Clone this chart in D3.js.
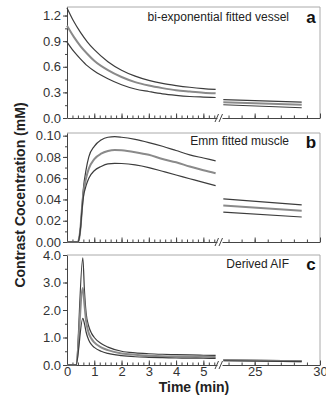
<!DOCTYPE html>
<html lang="en">
<head>
    <meta charset="utf-8">
    <title>Contrast concentration</title>
    <script src="https://d3js.org/d3.v7.min.js"></script>
    <style type="text/css">
        body{
            margin: 0;
            background: #fff;
        }
        svg{
            display: block;
            font-family: "Liberation Sans", Arial, sans-serif;
        }
        .tick text{
            fill: #333;
            font-size: 13px;
        }
        .domain{
            stroke: #444;
        }
        .tick line{
            stroke: #444;
        }
    </style>
</head>
<body>
    <svg id="chart" width="326" height="407"></svg>

    <script type="text/javascript">

        // panel a - bi-exponential fitted vessel
        const vesselTime = [0, 0.25, 0.5, 0.75, 1, 1.5, 2, 2.5, 3, 3.5, 4, 4.5, 5, 5.45]
        const vesselHigh = [1.29, 1.13, 1.0, 0.89, 0.8, 0.66, 0.56, 0.49, 0.44, 0.405, 0.38, 0.36, 0.345, 0.335]
        const vesselMid  = [1.08, 0.95, 0.84, 0.75, 0.67, 0.56, 0.48, 0.42, 0.38, 0.35, 0.325, 0.31, 0.297, 0.29]
        const vesselLow  = [0.89, 0.78, 0.69, 0.61, 0.55, 0.46, 0.39, 0.34, 0.31, 0.283, 0.265, 0.252, 0.245, 0.24]
        const vesselLateTime = [22.6, 28.6]
        const vesselLateHigh = [0.215, 0.185]
        const vesselLateMid  = [0.185, 0.155]
        const vesselLateLow  = [0.155, 0.12]

        // panel b - Emm fitted muscle
        const muscleTime = [0, 0.4, 0.45, 0.5, 0.55, 0.6, 0.7, 0.8, 1, 1.25, 1.5, 1.75, 2, 2.5, 3, 3.5, 4, 4.5, 5, 5.45]
        const muscleHigh = [0, 0, 0.004, 0.015, 0.033, 0.05, 0.068, 0.08, 0.09, 0.096, 0.0985, 0.099, 0.0985, 0.0965, 0.0935, 0.09, 0.086, 0.082, 0.079, 0.0763]
        const muscleMid  = [0, 0, 0.004, 0.015, 0.032, 0.046, 0.06, 0.069, 0.078, 0.083, 0.0855, 0.0865, 0.0862, 0.0845, 0.082, 0.078, 0.075, 0.071, 0.0675, 0.0647]
        const muscleLow  = [0, 0, 0.004, 0.014, 0.03, 0.042, 0.053, 0.06, 0.067, 0.071, 0.0735, 0.074, 0.0738, 0.0725, 0.07, 0.0665, 0.063, 0.0595, 0.056, 0.053]
        const muscleLateTime = [22.6, 28.6]
        const muscleLateHigh = [0.0406, 0.035]
        const muscleLateMid  = [0.0343, 0.0294]
        const muscleLateLow  = [0.0281, 0.0235]

        // panel c - derived AIF
        const aifTime = [0, 0.33, 0.58, 0.64, 0.7, 0.8, 0.9, 1, 1.25, 1.5, 2, 2.5, 3, 3.5, 4, 4.5, 5, 5.45]
        const aifHigh = [0, 0, 3.9, 2.7, 1.9, 1.4, 1.15, 1.0, 0.78, 0.65, 0.5, 0.44, 0.41, 0.39, 0.375, 0.365, 0.355, 0.35]
        const aifMid  = [0, 0, 2.8, 2.2, 1.6, 1.15, 0.95, 0.82, 0.64, 0.54, 0.42, 0.37, 0.34, 0.32, 0.31, 0.305, 0.3, 0.295]
        const aifLow  = [0, 0, 1.7, 1.5, 1.2, 0.9, 0.74, 0.64, 0.5, 0.42, 0.34, 0.3, 0.28, 0.265, 0.255, 0.25, 0.245, 0.24]
        const aifLateTime = [22.6, 28.6]
        const aifLateHigh = [0.19, 0.15]
        const aifLateMid  = [0.17, 0.14]
        const aifLateLow  = [0.155, 0.12]

        const earlyTicks = [0, 1, 2, 3, 4, 5]
        const lateTicks = [25, 30]

        const svg = d3.select("#chart");

        const xEarly = d3.scaleLinear().domain([0, 5.5]).range([67, 217]);
        const xLate = d3.scaleLinear().domain([22.5, 30]).range([222, 320]);

        const panels = [
            {
                top: 7, bottom: 118, max: 1.3, majors: [0, 0.3, 0.6, 0.9, 1.2], minorStep: 0.15, fmt: d3.format(".1f"),
                title: "bi-exponential fitted vessel", letter: "a", titleY: 21, letterY: 23,
                time: vesselTime, series: [vesselHigh, vesselMid, vesselLow],
                lateTime: vesselLateTime, late: [vesselLateHigh, vesselLateMid, vesselLateLow]
            },
            {
                top: 133, bottom: 242, max: 0.1025, majors: [0, 0.02, 0.04, 0.06, 0.08, 0.1], minorStep: 0.01, fmt: d3.format(".2f"),
                title: "Emm fitted muscle", letter: "b", titleY: 145, letterY: 148,
                time: muscleTime, series: [muscleHigh, muscleMid, muscleLow],
                lateTime: muscleLateTime, late: [muscleLateHigh, muscleLateMid, muscleLateLow]
            },
            {
                top: 255, bottom: 365, max: 4, majors: [0, 1, 2, 3, 4], minorStep: 0.5, fmt: d3.format(".1f"),
                title: "Derived AIF", letter: "c", titleY: 268, letterY: 270,
                time: aifTime, series: [aifHigh, aifMid, aifLow],
                lateTime: aifLateTime, late: [aifLateHigh, aifLateMid, aifLateLow]
            }
        ];

        const lineStyles = [
            {stroke: "#3c3c3c", width: 1.2},
            {stroke: "#8a8a8a", width: 2},
            {stroke: "#3c3c3c", width: 1.2}
        ];

        panels.forEach((p, pi) => {
            const y = d3.scaleLinear().domain([0, p.max]).range([p.bottom, p.top]);
            const g = svg.append("g");

            // frame (top and right)
            g.append("path")
                .attr("d", `M67,${p.top}H320V${p.bottom}`)
                .attr("fill", "none")
                .attr("stroke", "#aaa")
                .attr("stroke-width", 1);

            // y axis, minor then major
            const minors = d3.range(0, p.max + 1e-9, p.minorStep);
            g.append("g")
                .attr("transform", "translate(67,0)")
                .call(d3.axisLeft(y).tickValues(minors).tickSize(2).tickFormat(""))
                .call(a => a.select(".domain").remove());
            g.append("g")
                .attr("transform", "translate(67,0)")
                .call(d3.axisLeft(y).tickValues(p.majors).tickSize(4).tickSizeOuter(0).tickPadding(2).tickFormat(p.fmt));

            // x axes with a break, ticks pointing inward
            const last = pi === panels.length - 1;
            g.append("g")
                .attr("transform", `translate(0,${p.bottom})`)
                .call(d3.axisBottom(xEarly).tickValues(d3.range(0, 5.41, 0.2)).tickSize(-2.5).tickSizeOuter(0).tickFormat(""));
            g.append("g")
                .attr("transform", `translate(0,${p.bottom})`)
                .call(d3.axisBottom(xEarly).tickValues(earlyTicks).tickSize(-4.5).tickSizeOuter(0).tickPadding(2).tickFormat(last ? d3.format("d") : ""))
                .call(a => a.select(".domain").remove());
            g.append("g")
                .attr("transform", `translate(0,${p.bottom})`)
                .call(d3.axisBottom(xLate).tickValues(d3.range(23, 30.1, 1)).tickSize(-2.5).tickSizeOuter(0).tickFormat(""));
            g.append("g")
                .attr("transform", `translate(0,${p.bottom})`)
                .call(d3.axisBottom(xLate).tickValues(lateTicks).tickSize(-4.5).tickSizeOuter(0).tickPadding(2).tickFormat(last ? d3.format("d") : ""))
                .call(a => a.select(".domain").remove());

            // break marks
            [215, 219].forEach(bx => {
                g.append("line")
                    .attr("x1", bx).attr("y1", p.bottom + 4)
                    .attr("x2", bx + 3.5).attr("y2", p.bottom - 4)
                    .attr("stroke", "#444")
                    .attr("stroke-width", 1);
            });

            // curves
            const early = d3.line()
                .x(d => xEarly(d[0]))
                .y(d => y(d[1]))
                .curve(d3.curveMonotoneX);
            const late = d3.line()
                .x(d => xLate(d[0]))
                .y(d => y(d[1]));

            p.series.forEach((s, i) => {
                g.append("path")
                    .attr("d", early(p.time.map((t, j) => [t, s[j]])))
                    .attr("fill", "none")
                    .attr("stroke", lineStyles[i].stroke)
                    .attr("stroke-width", lineStyles[i].width);
            });
            p.late.forEach((s, i) => {
                g.append("path")
                    .attr("d", late(p.lateTime.map((t, j) => [t, s[j]])))
                    .attr("fill", "none")
                    .attr("stroke", lineStyles[i].stroke)
                    .attr("stroke-width", lineStyles[i].width);
            });

            // titles
            g.append("text")
                .attr("x", 289)
                .attr("y", p.titleY)
                .attr("text-anchor", "end")
                .attr("font-size", 12)
                .attr("fill", "#222")
                .text(p.title);
            g.append("text")
                .attr("x", 311)
                .attr("y", p.letterY)
                .attr("text-anchor", "middle")
                .attr("font-size", 17)
                .attr("font-weight", "bold")
                .attr("fill", "#111")
                .text(p.letter);
        });

        svg.append("text")
            .attr("transform", "translate(25,195) rotate(-90)")
            .attr("text-anchor", "middle")
            .attr("font-size", 14)
            .attr("font-weight", "bold")
            .attr("fill", "#222")
            .text("Contrast Cocentration (mM)");

        svg.append("text")
            .attr("x", 194)
            .attr("y", 392)
            .attr("text-anchor", "middle")
            .attr("font-size", 14)
            .attr("font-weight", "bold")
            .attr("fill", "#222")
            .text("Time (min)");
    </script>
</body>
</html>
